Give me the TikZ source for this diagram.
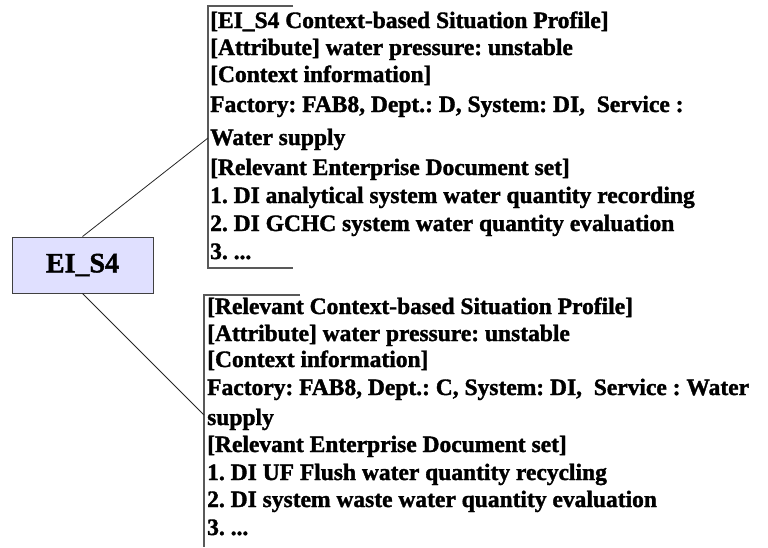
\documentclass[tikz,border=0pt]{standalone}
\usepackage{fontspec}
\setmainfont{Liberation Serif}[BoldFeatures={FakeBold=1.5}]
\begin{document}
\begin{tikzpicture}[x=1pt,y=-1pt,
  txt/.style={anchor=base west,inner sep=0pt,font=\fontsize{23.5}{28}\selectfont\bfseries\frenchspacing},
  bracket/.style={draw=black!65,line width=1.1pt},
  link/.style={draw=black!85,line width=0.8pt},
  topic/.style={draw=black!75,line width=0.9pt,fill=blue!12!white,minimum width=141pt,minimum height=56pt,inner sep=0pt,font=\fontsize{28}{32}\selectfont\bfseries}]
\useasboundingbox (0,0) rectangle (768,547);

% central topic box
\node[topic] (ei) at (82.5,265) {EI\_S4};

% first profile bracket
\coordinate (b1tr) at (293,6);
\coordinate (b1tl) at (208,6);
\coordinate (b1bl) at (208,268);
\coordinate (b1br) at (293,268);
\coordinate (b1j) at (208,138);
\draw[bracket] (b1tr) -- (b1tl) -- (b1bl) -- (b1br);

% second profile bracket
\coordinate (b2tr) at (300,295);
\coordinate (b2tl) at (204,295);
\coordinate (b2bl) at (204,547);
\coordinate (b2j) at (204,415);
\draw[bracket] (b2tr) -- (b2tl) -- (b2bl);

% connectors
\draw[link] (ei.north) -- (b1j);
\draw[link] (ei.south) -- (b2j);

% first profile text
\node[txt] (p1a) at (210,28)  {[EI\_S4 Context-based Situation Profile]};
\node[txt] (p1b) at (210,55)  {[Attribute] water pressure: unstable};
\node[txt] (p1c) at (210,82)  {[Context information]};
\node[txt] (p1d) at (210,112) {Factory: FAB8, Dept.: D, System: DI,\ \ Service :};
\node[txt] (p1e) at (210,145) {Water supply};
\node[txt] (p1f) at (210,175) {[Relevant Enterprise Document set]};
\node[txt] (p1g) at (210,203) {1. DI analytical system water quantity recording};
\node[txt] (p1h) at (210,231) {2. DI GCHC system water quantity evaluation};
\node[txt] (p1i) at (210,259) {3. ...};

% second profile text
\node[txt] (p2a) at (207,314) {[Relevant Context-based Situation Profile]};
\node[txt] (p2b) at (207,341) {[Attribute] water pressure: unstable};
\node[txt] (p2c) at (207,367) {[Context information]};
\node[txt] (p2d) at (207,395) {Factory: FAB8, Dept.: C, System: DI,\ \ Service : Water};
\node[txt] (p2e) at (207,425) {supply};
\node[txt] (p2f) at (207,452) {[Relevant Enterprise Document set]};
\node[txt] (p2g) at (207,480) {1. DI UF Flush water quantity recycling};
\node[txt] (p2h) at (207,507) {2. DI system waste water quantity evaluation};
\node[txt] (p2i) at (207,535) {3. ...};
\end{tikzpicture}
\end{document}
